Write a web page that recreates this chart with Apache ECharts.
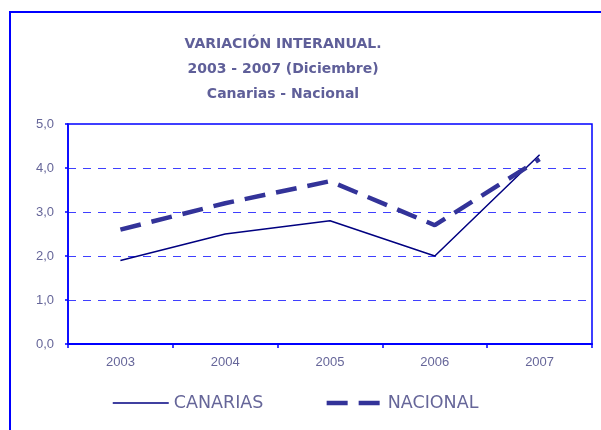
<!DOCTYPE html>
<html>
<head>
<meta charset="utf-8">
<script src="https://cdn.jsdelivr.net/npm/echarts@6/dist/echarts.min.js"></script>
<style>
html,body{margin:0;padding:0;background:#fff;}
#chart{width:601px;height:430px;}
</style>
</head>
<body>
<div id="chart"></div>
<script>
const categories = ['2003', '2004', '2005', '2006', '2007'];
const canarias = [1.9, 2.5, 2.8, 2.0, 4.3];
const nacional = [2.6, 3.2, 3.7, 2.7, 4.2];
const seriesNames = ['CANARIAS', 'NACIONAL'];
const titleText = 'VARIACIÓN INTERANUAL.\n2003 - 2007 (Diciembre)\nCanarias - Nacional';

const chart = echarts.init(document.getElementById('chart'), null, {renderer: 'canvas'});
chart.setOption({
  backgroundColor: '#ffffff',
  animation: false,
  graphic: [{
    type: 'rect',
    shape: {x: 10, y: 12, width: 620, height: 450},
    style: {fill: null, stroke: '#0000ff', lineWidth: 2},
    silent: true
  }],
  title: {
    text: titleText,
    left: 283,
    top: 32,
    padding: 0,
    textAlign: 'center',
    textStyle: {
      fontFamily: 'DejaVu Sans',
      fontWeight: 'bold',
      fontSize: 14,
      lineHeight: 25,
      color: '#5f5f99'
    }
  },
  grid: {
    left: 68, right: 9, top: 124, bottom: 86,
    show: true, borderColor: '#0000ff', borderWidth: 1.5
  },
  legend: {
    data: seriesNames,
    left: 112,
    top: 394,
    padding: 0,
    itemWidth: 56,
    itemHeight: 18,
    itemGap: 61,
    itemStyle: {opacity: 0, borderWidth: 0},
    lineStyle: {width: 'inherit', type: 'inherit'},
    textStyle: {fontFamily: 'DejaVu Sans', fontSize: 17.5, color: '#666699', padding: [0, 0, 0, 0]}
  },
  xAxis: {
    type: 'category',
    data: categories,
    boundaryGap: true,
    axisLine: {lineStyle: {color: '#0000ff', width: 2}},
    axisTick: {show: true, length: 4, interval: 0, lineStyle: {color: '#0000ff', width: 1.5}},
    axisLabel: {margin: 12, fontFamily: 'Liberation Sans', fontSize: 13, color: '#666699'},
    splitLine: {show: false}
  },
  yAxis: {
    type: 'value',
    min: 0, max: 5, interval: 1,
    axisLine: {show: true, lineStyle: {color: '#0000ff', width: 1.5}},
    axisTick: {show: true, length: 3, lineStyle: {color: '#0000ff', width: 1.5}},
    axisLabel: {
      margin: 14, fontFamily: 'Liberation Sans', fontSize: 13, color: '#666699',
      formatter: v => v.toFixed(1).replace('.', ',')
    },
    splitLine: {show: true, lineStyle: {color: '#3f3fff', width: 1, type: [8, 7]}}
  },
  series: [
    {
      name: seriesNames[0], type: 'line', data: canarias,
      symbol: 'none', color: '#000080',
      lineStyle: {color: '#000080', width: 1.5}
    },
    {
      name: seriesNames[1], type: 'line', data: nacional,
      symbol: 'none', color: '#333399',
      lineStyle: {color: '#333399', width: 4.5, type: [21, 11]}
    }
  ]
});
</script>
</body>
</html>
